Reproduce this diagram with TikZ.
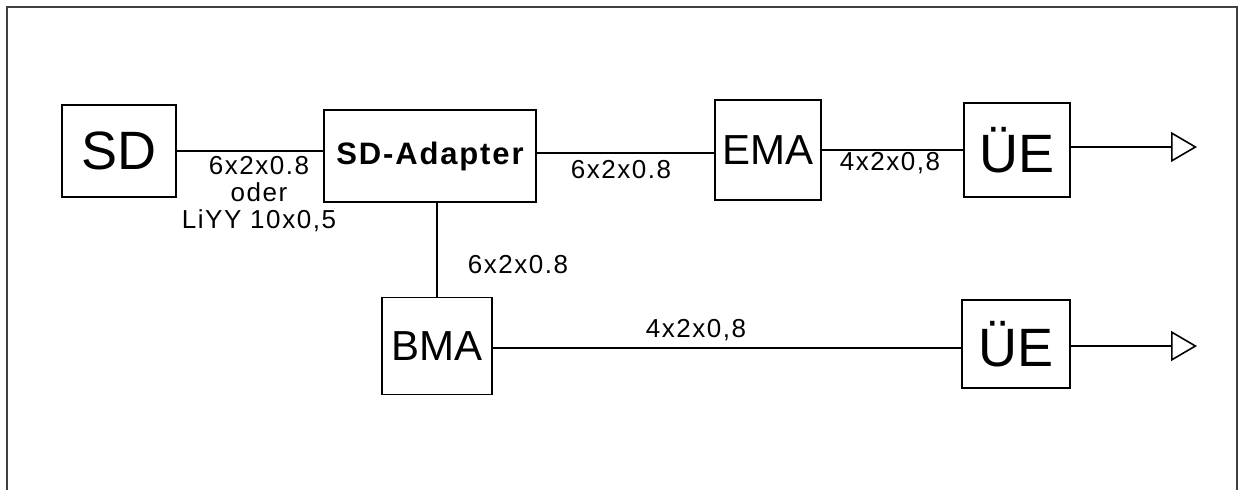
\documentclass[tikz,border=0pt]{standalone}
\usepackage{fontspec}
\setmainfont{Liberation Sans}
\newfontfamily\labfont[LetterSpace=6]{Liberation Sans}
\newfontfamily\adapterfont[LetterSpace=6]{Liberation Sans}
\usepackage{tikz}
\usetikzlibrary{arrows.meta}

\begin{document}
\begin{tikzpicture}[x=1pt,y=-1pt,
  box/.style={draw,line width=1.6pt,inner sep=0pt,align=center},
  big/.style={box,font=\fontsize{54}{60}\selectfont},
  mid/.style={box,font=\fontsize{42}{46}\selectfont},
  lab/.style={font=\labfont\fontsize{26}{27}\selectfont,align=center,inner sep=0pt},
  wire/.style={line width=1.6pt},
  feed/.style={wire,-{Triangle[open,length=26pt,width=30pt,line width=1.6pt]}}]
\useasboundingbox (0,0) rectangle (1240,490);
\draw[line width=1.8pt,black!75] (7,500) -- (7,7) -- (1237,7) -- (1237,500);
% upper row
\node[big,minimum width=114pt,minimum height=92pt] (SD) at (119,151) {SD};
\node[box,minimum width=212pt,minimum height=92pt,font=\adapterfont\bfseries\fontsize{31}{34}\selectfont] (adapter) at (430,156) {SD-Adapter};
\node[mid,minimum width=106pt,minimum height=100pt] (EMA) at (768,150) {EMA};
\node[big,minimum width=106pt,minimum height=94pt] (ue1) at (1017,150) {ÜE};
% lower row
\node[mid,minimum width=110pt,minimum height=97pt] (BMA) at (437,346) {BMA};
\node[big,minimum width=108pt,minimum height=88pt] (ue2) at (1016,344) {ÜE};
\coordinate (o1) at (1197,147);
\coordinate (o2) at (1197,346);
% cables
\draw[wire] (SD.east) -- (SD.east -| adapter.west);
\draw[wire] (adapter.east |- 0,153) -- (EMA.west |- 0,153);
\draw[wire] (EMA.east) -- (ue1.west);
\draw[wire] (BMA.north) -- (BMA.north |- adapter.south);
\draw[wire] (BMA.east |- 0,348) -- (ue2.west |- 0,348);
\draw[feed] (ue1.east |- o1) -- (o1);
\draw[feed] (ue2.east |- o2) -- (o2);
% cable types
\node[lab] (c1) at (259,194) {6x2x0.8\\oder\\LiYY 10x0,5};
\node[lab] (c2) at (621,170) {6x2x0.8};
\node[lab] (c3) at (890,163) {4x2x0,8};
\node[lab] (c4) at (518,265) {6x2x0.8};
\node[lab] (c5) at (696,330) {4x2x0,8};
\end{tikzpicture}
\end{document}
